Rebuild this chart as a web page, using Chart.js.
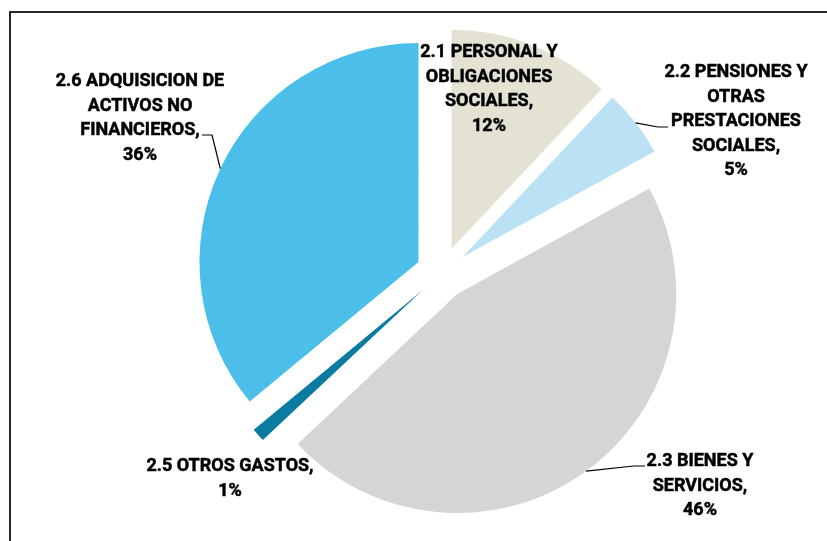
<!DOCTYPE html>
<html>
<head>
<meta charset="utf-8">
<title>Distribución del gasto</title>
<script src="https://cdn.jsdelivr.net/npm/chart.js@4.4.0/dist/chart.umd.min.js"></script>
<style>
  html, body { margin: 0; padding: 0; background: #fff; overflow: hidden; }
  #wrap { position: relative; width: 827px; height: 541px; }
  #marco {
    position: absolute; left: 9px; top: 11px; width: 900px; height: 600px;
    border-left: 2px solid #262626; border-top: 2px solid #262626;
  }
  #gastosChart { position: absolute; left: 0; top: 0; }
</style>
</head>
<body>
<div id="wrap">
  <div id="marco"></div>
  <canvas id="gastosChart" width="827" height="541"></canvas>
</div>
<script>
// Categorías del gasto y su participación (%)
const categorias = [
  '2.1 PERSONAL Y OBLIGACIONES SOCIALES',
  '2.2 PENSIONES Y OTRAS PRESTACIONES SOCIALES',
  '2.3 BIENES Y SERVICIOS',
  '2.5 OTROS GASTOS',
  '2.6 ADQUISICION DE ACTIVOS NO FINANCIEROS'
];
const porcentajes = [12, 5, 46, 1, 36];
const colores = ['#E4E2D2', '#BAE1F4', '#D4D5D7', '#0B7BA2', '#4BBFEA'];

// Texto de las etiquetas, partido en renglones (el % se agrega al final)
const renglones = [
  ['2.1 PERSONAL Y', 'OBLIGACIONES', 'SOCIALES,'],
  ['2.2 PENSIONES Y', 'OTRAS', 'PRESTACIONES', 'SOCIALES,'],
  ['2.3 BIENES Y', 'SERVICIOS,'],
  ['2.5 OTROS GASTOS,'],
  ['2.6 ADQUISICION DE', 'ACTIVOS NO', 'FINANCIEROS,']
];

// Ubicación de cada etiqueta (centro x, primera línea base y) y quiebre de su línea guía
const ubicaciones = [
  { x: 489, y: 57, guia: null },
  { x: 736, y: 77, guia: [[658, 127], [668, 127]] },
  { x: 700, y: 466, guia: [[634, 466], [645, 466]] },
  { x: 230, y: 471, guia: null },
  { x: 140, y: 86, guia: [[212, 135], [202, 135]] }
];

const RADIO = 219;
const SEPARACION = 26;
const INTERLINEA = 24.6;

// Desplaza cada porción hacia afuera sin cambiar su radio
const separar = {
  id: 'separar',
  afterDatasetsUpdate(chart) {
    chart.getDatasetMeta(0).data.forEach(arc => {
      const mid = (arc.startAngle + arc.endAngle) / 2;
      arc.x += Math.cos(mid) * SEPARACION;
      arc.y += Math.sin(mid) * SEPARACION;
    });
  }
};

const etiquetas = {
  id: 'etiquetas',
  afterDatasetsDraw(chart) {
    const ctx = chart.ctx;
    const arcs = chart.getDatasetMeta(0).data;
    ctx.save();
    ctx.fillStyle = '#000';
    ctx.strokeStyle = '#000';
    ctx.font = 'bold 18px Roboto, "Liberation Sans", sans-serif';
    ctx.textAlign = 'center';
    ctx.textBaseline = 'alphabetic';
    ctx.lineJoin = 'round';

    arcs.forEach((arc, i) => {
      const pos = ubicaciones[i];
      const lineas = [...renglones[i], porcentajes[i] + '%'];
      ctx.lineWidth = 0.5;
      lineas.forEach((t, k) => {
        ctx.fillText(t, pos.x, pos.y + k * INTERLINEA);
        ctx.strokeText(t, pos.x, pos.y + k * INTERLINEA);
      });

      if (pos.guia) {
        const mid = (arc.startAngle + arc.endAngle) / 2;
        ctx.lineWidth = 1.2;
        ctx.beginPath();
        ctx.moveTo(arc.x + Math.cos(mid) * arc.outerRadius, arc.y + Math.sin(mid) * arc.outerRadius);
        pos.guia.forEach(([gx, gy]) => ctx.lineTo(gx, gy));
        ctx.stroke();
      }
    });
    ctx.restore();
  }
};

new Chart(document.getElementById('gastosChart').getContext('2d'), {
  type: 'pie',
  data: {
    labels: categorias,
    datasets: [{
      data: porcentajes,
      backgroundColor: colores,
      borderWidth: 0,
      radius: RADIO
    }]
  },
  options: {
    responsive: false,
    animation: false,
    events: [],
    layout: { padding: { left: 57, right: 0, top: 5, bottom: 0 } },
    plugins: {
      legend: { display: false },
      tooltip: { enabled: false }
    }
  },
  plugins: [separar, etiquetas]
});
</script>
</body>
</html>
